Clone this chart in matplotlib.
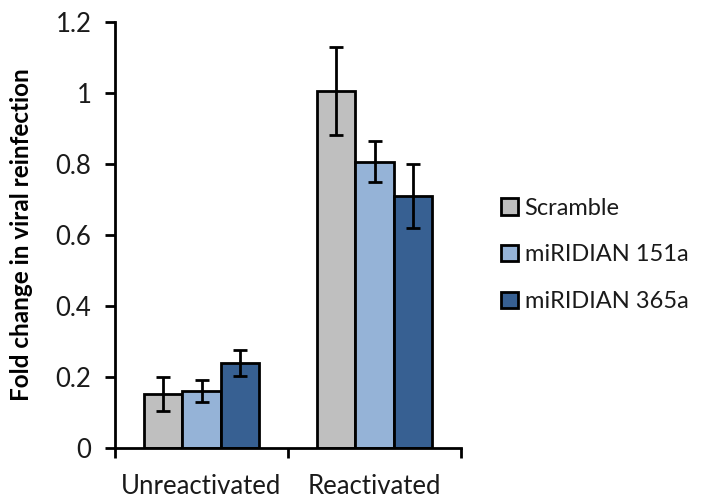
import matplotlib
matplotlib.use("Agg")
import matplotlib.pyplot as plt
import numpy as np

categories = ["Unreactivated", "Reactivated"]
series_names = ["Scramble", "miRIDIAN 151a", "miRIDIAN 365a"]
scramble = [0.152, 1.005]
mir151a = [0.160, 0.806]
mir365a = [0.238, 0.709]
scramble_err = [0.048, 0.123]
mir151a_err = [0.030, 0.057]
mir365a_err = [0.036, 0.089]
colors = ["#BFBFBF", "#95B3D7", "#376092"]
yticks = [0, 0.2, 0.4, 0.6, 0.8, 1, 1.2]
ytick_labels = ["0", "0.2", "0.4", "0.6", "0.8", "1", "1.2"]

plt.rcParams["font.family"] = ["Lato", "DejaVu Sans"]

W, H = 708, 499
fig = plt.figure(figsize=(W / 100, H / 100), dpi=100)
ax = fig.add_axes([115 / W, 1 - 447.7 / H, 346 / W, 426 / H])

values = [scramble, mir151a, mir365a]
errors = [scramble_err, mir151a_err, mir365a_err]
width = 1 / 4.5
x = np.arange(len(categories))
for i, (vals, errs, col, name) in enumerate(zip(values, errors, colors, series_names)):
    pos = x + (i - 1) * width
    ax.bar(pos, vals, width=width, color=col, edgecolor="black",
           linewidth=2.0, label=name, zorder=2)
    ax.errorbar(pos, vals, yerr=errs, fmt="none", ecolor="black",
                elinewidth=2.0, capsize=5, capthick=2.0, zorder=3)

ax.set_xlim(-0.5, 1.5)
ax.set_ylim(0, 1.2)
ax.set_yticks(yticks)
ax.set_yticklabels(ytick_labels)
ax.set_xticks([-0.5, 0.5, 1.5], minor=False)
ax.set_xticklabels(["", "", ""])
ax.set_xticks(x, minor=True)
ax.set_xticklabels(categories, minor=True)
ax.tick_params(axis="x", which="minor", length=0, pad=19, labelsize=18.5,
               labelcolor="#1a1a1a")
ax.tick_params(axis="x", which="major", length=7, width=2, direction="out")
ax.tick_params(axis="y", length=7, width=2, direction="out", labelsize=18.5,
               pad=10, labelcolor="#1a1a1a")

for side in ["top", "right"]:
    ax.spines[side].set_visible(False)
for side in ["left", "bottom"]:
    ax.spines[side].set_linewidth(2)

ax.set_ylabel("Fold change in viral reinfection", fontsize=17.5,
              fontweight="bold")
ax.yaxis.set_label_coords(-(115 - 33) / 346, 0.5)

leg = fig.legend(loc="center left", bbox_to_anchor=(501 / W, 1 - 255 / H),
                 frameon=False, fontsize=17, handlelength=0.7, handleheight=0.7,
                 handletextpad=0.3, labelspacing=1.1, borderpad=0,
                 borderaxespad=0)
for t in leg.get_texts():
    t.set_color("#1a1a1a")

fig.savefig("out.png", dpi=100)
